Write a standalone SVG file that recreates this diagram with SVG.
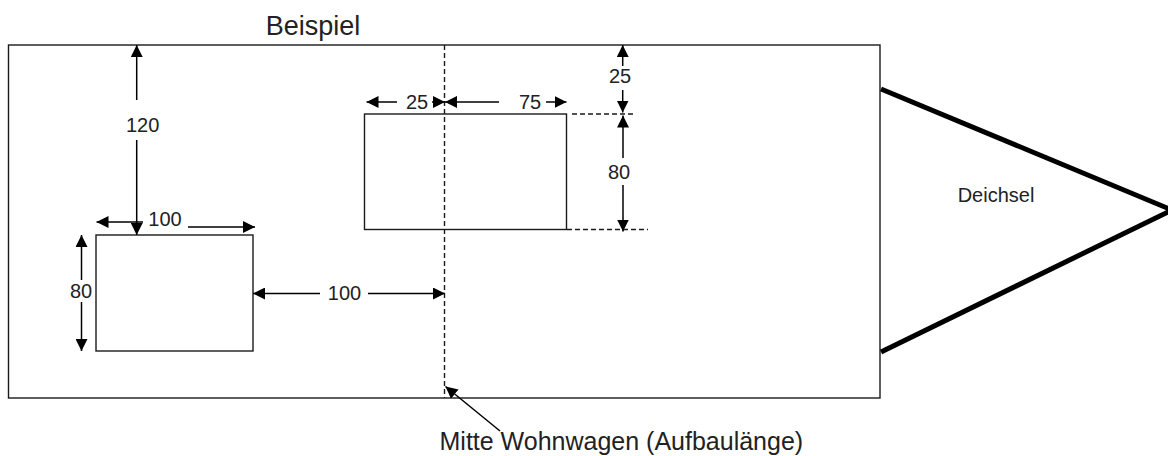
<svg xmlns="http://www.w3.org/2000/svg" width="1168" height="456" viewBox="0 0 1168 456">
<style>
.box{fill:#fff;stroke:#1a1a1a;stroke-width:1.4}
.frame{fill:none;stroke:#1a1a1a;stroke-width:1.4}
.dash{fill:none;stroke:#1a1a1a;stroke-width:1.4;stroke-dasharray:5,3}
.dim{fill:none;stroke:#000;stroke-width:1.5}
.bar{fill:none;stroke:#000;stroke-width:5}
.t{font-family:"Liberation Sans",Arial,sans-serif;fill:#222}
.d{font-size:20px;text-anchor:middle}
</style>
<defs>
<marker id="ah" viewBox="0 0 12 12" refX="12" refY="6" markerWidth="12" markerHeight="12" markerUnits="userSpaceOnUse" orient="auto">
<path d="M0,0 L12,6 L0,12 Z" fill="#000"/>
</marker>
</defs>
<rect width="1168" height="456" fill="#fff"/>
<g id="wohnwagen">
<rect class="frame" x="8.5" y="45" width="871.5" height="353"/>
</g>
<g id="deichsel">
<line class="bar" x1="881" y1="89" x2="1172" y2="210"/>
<line class="bar" x1="881" y1="352" x2="1172" y2="210"/>
<text class="t" x="996" y="202" font-size="20" text-anchor="middle">Deichsel</text>
</g>
<g id="fenster-links">
<rect class="box" x="96" y="235" width="157" height="116"/>
</g>
<g id="fenster-rechts">
<rect class="box" x="364.5" y="114" width="202" height="115.5"/>
</g>
<g id="mittellinie">
<line class="dash" x1="444.5" y1="45" x2="444.5" y2="398"/>
<line class="dash" x1="572" y1="114" x2="636" y2="114"/>
<line class="dash" x1="567" y1="229.5" x2="648" y2="229.5"/>
</g>
<g id="connectors">
<!-- 120 -->
<line class="dim" x1="136.7" y1="100" x2="136.7" y2="45" marker-end="url(#ah)"/>
<line class="dim" x1="136.7" y1="140" x2="136.7" y2="235" marker-end="url(#ah)"/>
<!-- 100 top -->
<line class="dim" x1="143" y1="222" x2="96.5" y2="222" marker-end="url(#ah)"/>
<line class="dim" x1="188" y1="227" x2="255" y2="227" marker-end="url(#ah)"/>
<!-- 80 left -->
<line class="dim" x1="81.5" y1="280" x2="81.5" y2="235" marker-end="url(#ah)"/>
<line class="dim" x1="81.5" y1="302" x2="81.5" y2="351" marker-end="url(#ah)"/>
<!-- 100 middle -->
<line class="dim" x1="320" y1="293.5" x2="253" y2="293.5" marker-end="url(#ah)"/>
<line class="dim" x1="368" y1="293.5" x2="445" y2="293.5" marker-end="url(#ah)"/>
<!-- 25 / 75 horizontal -->
<line class="dim" x1="397" y1="102" x2="366.5" y2="102" marker-end="url(#ah)"/>
<line class="dim" x1="432" y1="102" x2="445" y2="102" marker-end="url(#ah)"/>
<line class="dim" x1="499" y1="102" x2="445" y2="102" marker-end="url(#ah)"/>
<line class="dim" x1="546" y1="102" x2="566.5" y2="102" marker-end="url(#ah)"/>
<!-- 25 vertical -->
<line class="dim" x1="622.7" y1="66" x2="622.7" y2="45" marker-end="url(#ah)"/>
<line class="dim" x1="622.7" y1="90" x2="622.7" y2="112.5" marker-end="url(#ah)"/>
<!-- 80 vertical -->
<line class="dim" x1="623" y1="158" x2="623" y2="115.5" marker-end="url(#ah)"/>
<line class="dim" x1="623" y1="185" x2="623" y2="231.5" marker-end="url(#ah)"/>
<!-- callout -->
<line class="dim" x1="500" y1="431" x2="445.5" y2="386.5" marker-end="url(#ah)"/>
</g>
<g id="labels">
<text class="t" x="313" y="35" font-size="27" text-anchor="middle">Beispiel</text>
<text class="t d" x="142.7" y="131.5">120</text>
<text class="t d" x="165" y="226">100</text>
<text class="t d" x="81" y="297.5">80</text>
<text class="t d" x="344.5" y="300">100</text>
<text class="t d" x="417" y="108.5">25</text>
<text class="t d" x="530" y="108.5">75</text>
<text class="t d" x="620" y="83">25</text>
<text class="t d" x="619" y="178.5">80</text>
<text class="t" x="439.5" y="450" font-size="25">Mitte Wohnwagen (Aufbaulänge)</text>
</g>
</svg>
